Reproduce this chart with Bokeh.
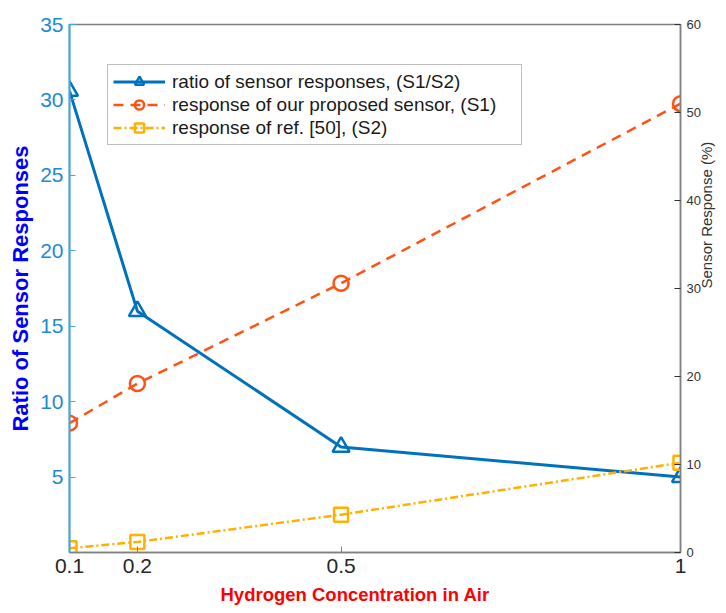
import math
from bokeh.plotting import figure
from bokeh.models import (Range1d, LinearAxis, FixedTicker, Legend, LegendItem, Title)
from bokeh.embed import file_html
from bokeh.resources import INLINE

# ---- data ----
h2_conc = [0.1, 0.2, 0.5, 1.0]
ratio_s1_s2 = [30.6, 16.0, 7.0, 5.0]
resp_s1 = [14.7, 19.2, 30.6, 51.0]
resp_s2 = [0.48, 1.2, 4.3, 10.2]

x_ticks = [0.1, 0.2, 0.5, 1]
x_tick_labels = ["0.1", "0.2", "0.5", "1"]
left_ticks = [5, 10, 15, 20, 25, 30, 35]
right_ticks = [0, 10, 20, 30, 40, 50, 60]

labels = ["ratio of sensor responses, (S1/S2)",
          "response of our proposed sensor, (S1)",
          "response of ref. [50], (S2)"]

BLUE = "#0072BD"
ORANGE = "#FF5316"
YELLOW = "#FFB000"
AXBLUE = "#3FA9E0"
TICKBLUE = "#1E8AD2"
GRAY = "#808080"
FONT = "Liberation Sans"

p = figure(width=726, height=613, output_backend="svg", toolbar_location=None,
           x_range=Range1d(0.1, 1.0), y_range=Range1d(0, 35),
           min_border_left=69, min_border_right=45, min_border_top=24,
           min_border_bottom=61)
p.extra_y_ranges = {"resp": Range1d(0, 60)}
p.xgrid.visible = False
p.ygrid.visible = False
p.outline_line_color = GRAY
p.outline_line_width = 1.5
p.background_fill_color = "white"
p.border_fill_color = "white"

# bottom axis
xa = p.xaxis[0]
xa.ticker = FixedTicker(ticks=x_ticks)
xa.major_label_overrides = dict(zip(x_ticks, x_tick_labels))
xa.axis_line_color = GRAY
xa.axis_line_width = 1.5
xa.major_tick_line_color = GRAY
xa.major_tick_in = 6
xa.major_tick_out = 0
xa.minor_tick_line_color = None
xa.major_label_text_font = FONT
xa.major_label_text_font_size = "21px"
xa.major_label_text_color = "#262626"
xa.major_label_standoff = 6

xtitle = Title(text="Hydrogen Concentration in Air", align="left", offset=151,
               text_font=FONT, text_font_size="18.5px", text_font_style="bold",
               text_color="#FF0000", standoff=12)
p.add_layout(xtitle, "below")

# left axis
ya = p.yaxis[0]
ya.ticker = FixedTicker(ticks=left_ticks)
ya.axis_line_color = AXBLUE
ya.axis_line_width = 2
ya.major_tick_line_color = AXBLUE
ya.major_tick_in = 6
ya.major_tick_out = 0
ya.minor_tick_line_color = None
ya.major_label_text_font = FONT
ya.major_label_text_font_size = "21px"
ya.major_label_text_color = TICKBLUE
ya.major_label_standoff = 6
ya.axis_label = "Ratio of Sensor Responses"
ya.axis_label_text_font = FONT
ya.axis_label_text_font_size = "22px"
ya.axis_label_text_font_style = "bold"
ya.axis_label_text_color = "#0000FF"
ya.axis_label_standoff = 4

# right axis (sensor response)
ra = LinearAxis(y_range_name="resp", ticker=FixedTicker(ticks=right_ticks),
                axis_line_color=GRAY, axis_line_width=1.5,
                major_tick_line_color="#333333", major_tick_in=6, major_tick_out=0,
                minor_tick_line_color=None,
                major_label_text_font=FONT, major_label_text_font_size="13px",
                major_label_text_color="#333333", major_label_standoff=6,
                axis_label="Sensor Response (%)", axis_label_text_font=FONT,
                axis_label_text_font_size="15px", axis_label_text_font_style="normal",
                axis_label_text_color="#333333", axis_label_standoff=3,
                axis_label_text_align="center", axis_label_text_baseline="middle")
ra.axis_label_orientation = math.pi / 2
p.add_layout(ra, "right")

# lines
l1 = p.line(h2_conc, ratio_s1_s2, line_color=BLUE, line_width=3)
m1 = p.scatter(h2_conc, ratio_s1_s2, marker="triangle", size=17, line_color=BLUE,
               fill_color=None, line_width=2.5)
l2 = p.line(h2_conc, resp_s1, y_range_name="resp", line_color=ORANGE, line_width=2.5,
            line_dash="10 7")
m2 = p.scatter(h2_conc, resp_s1, y_range_name="resp", marker="circle", size=15,
               line_color=ORANGE, fill_color=None, line_width=2.5)
l3 = p.line(h2_conc, resp_s2, y_range_name="resp", line_color=YELLOW, line_width=2.5,
            line_dash="8 3 2 3")
m3 = p.scatter(h2_conc, resp_s2, y_range_name="resp", marker="square", size=14,
               line_color=YELLOW, fill_color=None, line_width=2.5)

legend = Legend(items=[LegendItem(label=labels[0], renderers=[l1, m1]),
                       LegendItem(label=labels[1], renderers=[l2, m2]),
                       LegendItem(label=labels[2], renderers=[l3, m3])],
                location=(38, 407))
legend.border_line_color = GRAY
legend.border_line_width = 1.5
legend.background_fill_color = "white"
legend.background_fill_alpha = 1
legend.label_text_font = FONT
legend.label_text_font_size = "19px"
legend.label_text_color = "#1a1a1a"
legend.glyph_width = 52
legend.glyph_height = 23
legend.label_height = 20
legend.label_width = 344
legend.label_standoff = 7
legend.spacing = 0
legend.padding = 5
legend.margin = 0
p.add_layout(legend)

open("out.html", "w").write(file_html(p, INLINE))
